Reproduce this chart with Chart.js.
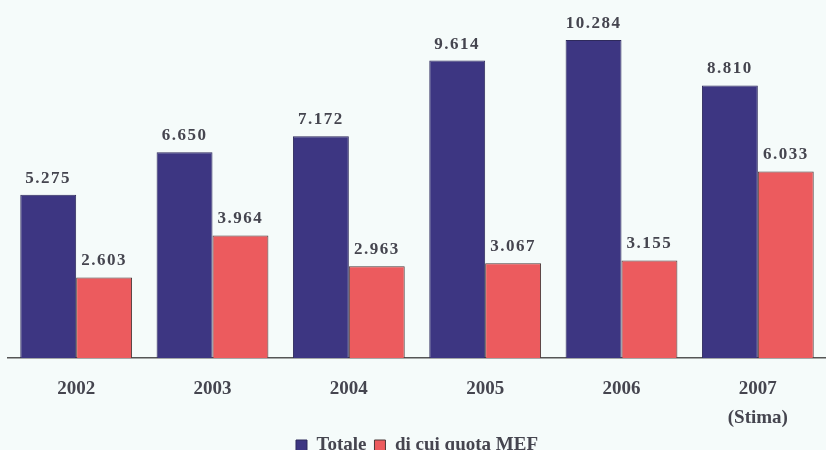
<!DOCTYPE html>
<html lang="it">
<head>
<meta charset="UTF-8">
<title>Totale e quota MEF</title>
<script src="https://cdn.jsdelivr.net/npm/chart.js"></script>
<style>
    html, body { margin: 0; padding: 0; background: #f5fbfa; }
    .wrap { width: 826px; height: 450px; position: relative; }
</style>
</head>
<body>
<div class="wrap"><canvas id="chart"></canvas></div>
<script>
const years = ['2002', '2003', '2004', '2005', '2006', ['2007', '(Stima)']];
const totale = [5275, 6650, 7172, 9614, 10284, 8810];
const quotaMEF = [2603, 3964, 2963, 3067, 3155, 6033];

// numbers shown the italian way: 5.275
const fmt = v => v.toLocaleString('it-IT');

const valueLabels = {
    id: 'valueLabels',
    afterDatasetsDraw(chart) {
        const ctx = chart.ctx;
        ctx.save();
        ctx.font = 'bold 17px "Liberation Serif", serif';
        ctx.letterSpacing = '1.5px';
        ctx.fillStyle = '#45454f';
        ctx.textAlign = 'center';
        ctx.textBaseline = 'alphabetic';
        chart.data.datasets.forEach((ds, i) => {
            chart.getDatasetMeta(i).data.forEach((bar, j) => {
                ctx.fillText(fmt(ds.data[j]), bar.x, bar.y - 12);
            });
        });
        ctx.restore();
    }
};

new Chart(document.getElementById('chart'), {
    type: 'bar',
    data: {
        labels: years,
        datasets: [
            { label: 'Totale', data: totale, backgroundColor: '#3d3682', borderColor: '#2e2a5c', borderWidth: 1 },
            { label: 'di cui quota MEF', data: quotaMEF, backgroundColor: '#ec5b5e', borderColor: '#4a3a3a', borderWidth: 1 }
        ]
    },
    options: {
        responsive: true,
        maintainAspectRatio: false,
        animation: false,
        layout: { padding: { left: 8, right: 0, top: 10, bottom: -15 } },
        datasets: { bar: { categoryPercentage: 0.82, barPercentage: 1 } },
        scales: {
            x: {
                grid: { display: false, drawTicks: false },
                border: { color: '#555', width: 1.5 },
                ticks: {
                    padding: 17,
                    color: '#45454f',
                    font: { family: '"Liberation Serif", serif', size: 19, weight: 'bold', lineHeight: 1.5 }
                },
                afterFit: scale => { scale.height = 70; }
            },
            y: {
                display: false,
                min: 0,
                max: 11250
            }
        },
        plugins: {
            legend: {
                position: 'bottom',
                labels: {
                    boxWidth: 11,
                    boxHeight: 11,
                    padding: 8,
                    color: '#45454f',
                    font: { family: '"Liberation Serif", serif', size: 19, weight: 'bold' }
                }
            },
            tooltip: { enabled: false }
        }
    },
    plugins: [valueLabels]
});
</script>
</body>
</html>
